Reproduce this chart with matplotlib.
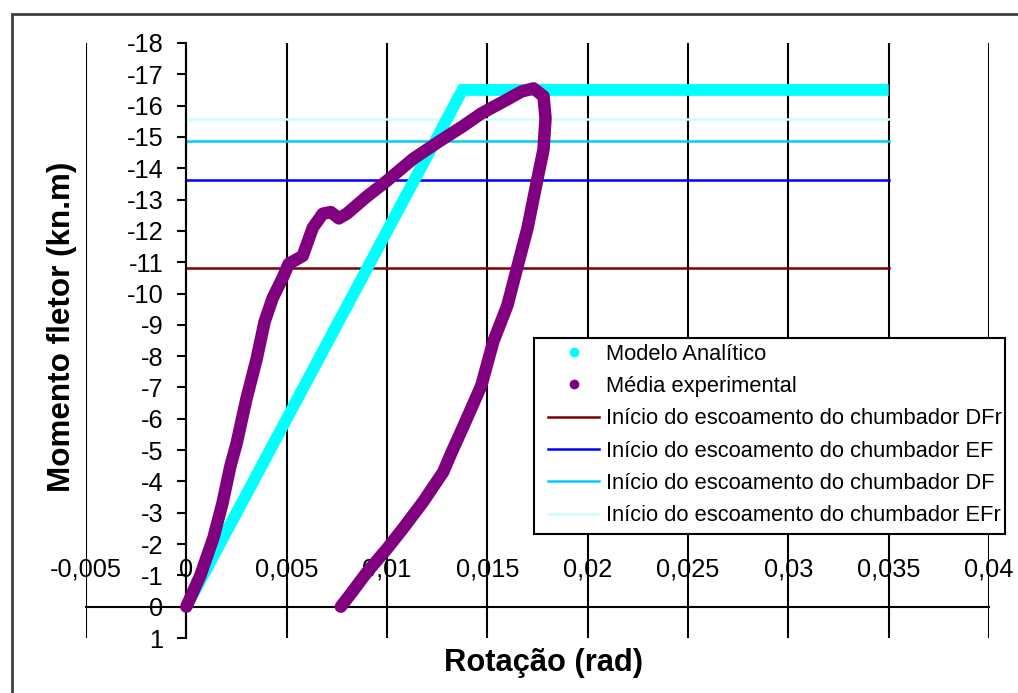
import matplotlib
matplotlib.use("Agg")
import matplotlib.pyplot as plt
from matplotlib.lines import Line2D
from matplotlib.patches import Rectangle
from matplotlib.ticker import FixedLocator, FixedFormatter

plt.rcParams['font.family'] = ['Liberation Sans', 'DejaVu Sans']
plt.rcParams['axes.unicode_minus'] = False

# ---------------- data ----------------
theta_analitico = [0.0, 0.01376, 0.035]
M_analitico = [0.0, -16.5, -16.5]

theta_exp = [0.0, 0.0007, 0.00135, 0.0018, 0.0022, 0.0025, 0.0030, 0.0035, 0.0039,
             0.0043, 0.0048, 0.0051, 0.0058, 0.0063, 0.0068, 0.0072, 0.0076, 0.0080,
             0.0090, 0.0100, 0.0113, 0.0127, 0.0138, 0.0147, 0.0160, 0.0167, 0.0173,
             0.0178, 0.0179, 0.0178, 0.0175, 0.0170, 0.0165, 0.0160, 0.0153, 0.0147,
             0.0138, 0.0132, 0.0128, 0.0118, 0.0108, 0.0100, 0.0090, 0.0083, 0.0077]
M_exp = [0.0, -1.0, -2.2, -3.3, -4.5, -5.2, -6.65, -7.9, -9.1,
         -9.85, -10.5, -10.95, -11.2, -12.1, -12.55, -12.6, -12.4, -12.55,
         -13.1, -13.6, -14.3, -14.9, -15.35, -15.75, -16.2, -16.45, -16.55,
         -16.3, -15.6, -14.6, -13.67, -12.08, -10.86, -9.62, -8.47, -7.06,
         -5.75, -4.9, -4.3, -3.35, -2.5, -1.85, -1.1, -0.5, 0.0]

theta_ref_range = [0.0, 0.035]
M_DFr = -10.82
M_EF = -13.61
M_DF = -14.88
M_EFr = -15.56

x_ticks = [-0.005, 0.0, 0.005, 0.01, 0.015, 0.02, 0.025, 0.03, 0.035, 0.04]
x_labels = ["-0,005", "0", "0,005", "0,01", "0,015", "0,02", "0,025", "0,03", "0,035", "0,04"]
y_ticks = list(range(-18, 2))
y_labels = [str(v) for v in y_ticks]

labels = ["Modelo Analítico", "Média experimental",
          "Início do escoamento do chumbador DFr",
          "Início do escoamento do chumbador EF",
          "Início do escoamento do chumbador DF",
          "Início do escoamento do chumbador EFr"]
colors = ["#00FFFF", "#800080", "#800000", "#0000FF", "#00CCFF", "#CCFFFF"]

# ---------------- figure ----------------
W, H = 1018, 693
fig = plt.figure(figsize=(W / 100, H / 100), dpi=100)
fig.patch.set_facecolor("white")

# plot area (pixel coordinates of the reference)
L, R, T, B = 86, 989, 43, 638
ax = fig.add_axes([L / W, 1 - B / H, (R - L) / W, (B - T) / H])
ax.set_facecolor("white")
ax.set_xlim(-0.005, 0.04)
ax.set_ylim(1, -18)

# reference lines
for val, c in zip([M_DFr, M_EF, M_DF, M_EFr], colors[2:]):
    ax.plot(theta_ref_range, [val, val], color=c, lw=1.8, zorder=2)

ax.plot(theta_analitico, M_analitico, color=colors[0], lw=8.5,
        solid_joinstyle='miter', solid_capstyle='butt', zorder=3)
ax.plot(theta_exp, M_exp, color=colors[1], lw=9, solid_joinstyle='round',
        solid_capstyle='round', zorder=4)

# axes styling
for s in ['right', 'bottom']:
    ax.spines[s].set_visible(False)
ax.spines['left'].set_position(('data', 0))
ax.spines['top'].set_position(('data', 0))
ax.spines['left'].set_linewidth(1.5)
ax.spines['top'].set_linewidth(1.5)

ax.xaxis.tick_top()
ax.xaxis.set_major_locator(FixedLocator(x_ticks))
ax.xaxis.set_major_formatter(FixedFormatter(x_labels))
ax.tick_params(axis='x', length=0, pad=18, labelsize=18.3, colors='black')
ax.yaxis.set_major_locator(FixedLocator(y_ticks))
ax.yaxis.set_major_formatter(FixedFormatter(y_labels))
ax.tick_params(axis='y', length=6.5, width=1.5, pad=10, labelsize=18.3, direction='out')
ax.xaxis.grid(True, color='black', lw=1.5, zorder=1)
ax.set_axisbelow(True)

fig.text(62 / W, 1 - 327 / H, "Momento fletor (kn.m)", rotation=90, ha='center',
         va='center', fontsize=22.6, fontweight='bold')
fig.text(543 / W, 1 - 663 / H, "Rotação (rad)", ha='center', va='center',
         fontsize=22.2, fontweight='bold')

# chart border
fig.add_artist(Rectangle((12 / W, -0.2), 1.2, (1 - 14 / H) + 0.2, transform=fig.transFigure,
                         fill=False, edgecolor='#404040', lw=2, zorder=0))

# legend box
lx0, lx1, ly0, ly1 = 534, 1005, 338, 534
fig.add_artist(Rectangle((lx0 / W, 1 - ly1 / H), (lx1 - lx0) / W, (ly1 - ly0) / H,
                         transform=fig.transFigure, facecolor='white', edgecolor='black',
                         lw=1.5, zorder=5))
handles = [Line2D([], [], ls='none', marker='o', ms=6, color=colors[0]),
           Line2D([], [], ls='none', marker='o', ms=6, color=colors[1])]
handles += [Line2D([], [], color=c, lw=1.8) for c in colors[2:]]
fig.legend(handles, labels, loc='upper left', bbox_to_anchor=(548 / W, 1 - 343.5 / H),
           bbox_transform=fig.transFigure, frameon=False, borderpad=0, borderaxespad=0,
           fontsize=15.75, handlelength=2.35, handletextpad=0.28, labelspacing=0.52
           ).set_zorder(6)

fig.savefig("out.png", dpi=100)
